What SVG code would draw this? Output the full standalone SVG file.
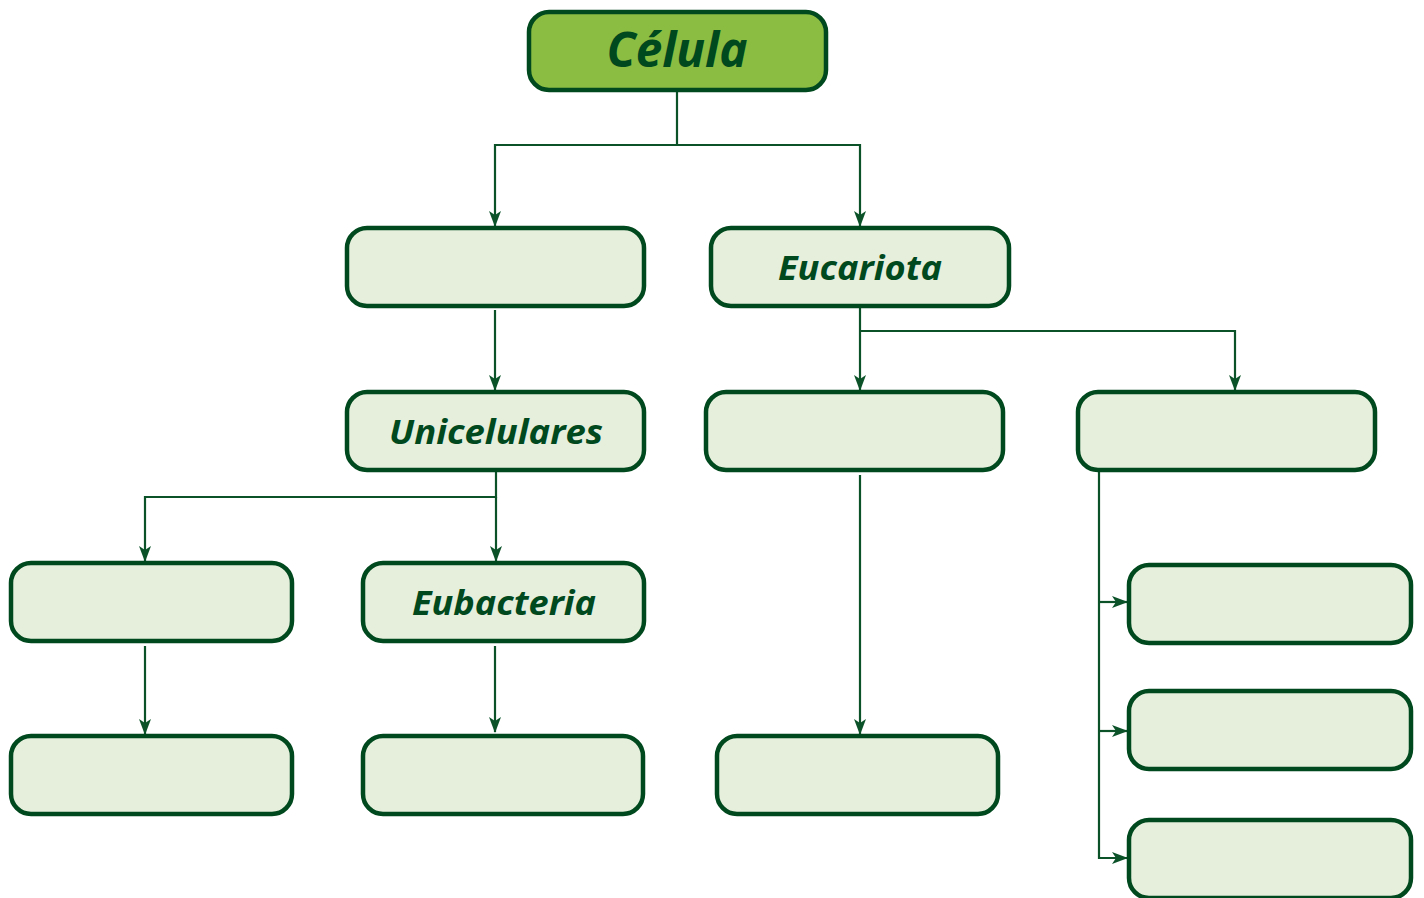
<svg xmlns="http://www.w3.org/2000/svg" width="1424" height="898" viewBox="0 0 1424 898">
<defs>
<style>
.box{fill:#e5efdc;stroke:#00481d;stroke-width:4.5}
.root{fill:#8bbd42;stroke:#00481d;stroke-width:4.5}
.lbl{font-family:"Open Sans","Liberation Sans",sans-serif;font-weight:bold;font-style:italic;fill:#00481d;text-anchor:middle}
.c{fill:none;stroke:#0b5229;stroke-width:2.2}
</style>
<marker id="ah" viewBox="0 0 16 14" refX="15" refY="7" markerWidth="16" markerHeight="14" markerUnits="userSpaceOnUse" orient="auto">
<path d="M0,1 L16,7 L0,13 L4,7 Z" fill="#0b5229"/>
</marker>
</defs>
<g id="connectors">
<path class="c" d="M677,91 V145 H495 V226" marker-end="url(#ah)"/>
<path class="c" d="M677,145 H860 V226" marker-end="url(#ah)"/>
<path class="c" d="M495,310 V390" marker-end="url(#ah)"/>
<path class="c" d="M860,307 V390" marker-end="url(#ah)"/>
<path class="c" d="M860,331 H1235 V390" marker-end="url(#ah)"/>
<path class="c" d="M496,471 V497 H145 V561" marker-end="url(#ah)"/>
<path class="c" d="M496,497 V561" marker-end="url(#ah)"/>
<path class="c" d="M145,646 V734" marker-end="url(#ah)"/>
<path class="c" d="M495,646 V732" marker-end="url(#ah)"/>
<path class="c" d="M860,475 V734" marker-end="url(#ah)"/>
<path class="c" d="M1099,471 V858 H1127" marker-end="url(#ah)"/>
<path class="c" d="M1099,602 H1127" marker-end="url(#ah)"/>
<path class="c" d="M1099,731 H1127" marker-end="url(#ah)"/>
</g>
<g id="celula"><rect class="root" x="529" y="12" width="297" height="78" rx="20"/><text class="lbl" x="677" y="67" font-size="48" textLength="141" lengthAdjust="spacingAndGlyphs">Célula</text></g>
<g id="procariota"><rect class="box" x="347" y="228" width="297" height="78" rx="20"/></g>
<g id="eucariota"><rect class="box" x="711" y="228" width="298" height="78" rx="20"/><text class="lbl" x="860" y="280" font-size="34" textLength="164" lengthAdjust="spacingAndGlyphs">Eucariota</text></g>
<g id="unicelulares"><rect class="box" x="347" y="392" width="297" height="78" rx="20"/><text class="lbl" x="496" y="444" font-size="34" textLength="214" lengthAdjust="spacingAndGlyphs">Unicelulares</text></g>
<g id="euc-a"><rect class="box" x="706" y="392" width="297" height="78" rx="20"/></g>
<g id="euc-b"><rect class="box" x="1078" y="392" width="297" height="78" rx="20"/></g>
<g id="archaea"><rect class="box" x="11" y="563" width="281" height="78" rx="20"/></g>
<g id="eubacteria"><rect class="box" x="363" y="563" width="281" height="78" rx="20"/><text class="lbl" x="504" y="615" font-size="34" textLength="184" lengthAdjust="spacingAndGlyphs">Eubacteria</text></g>
<g id="archaea-ex"><rect class="box" x="11" y="736" width="281" height="78" rx="20"/></g>
<g id="eubacteria-ex"><rect class="box" x="363" y="736" width="280" height="78" rx="20"/></g>
<g id="euc-a-ex"><rect class="box" x="717" y="736" width="281" height="78" rx="20"/></g>
<g id="euc-b-1"><rect class="box" x="1129" y="565" width="282" height="78" rx="20"/></g>
<g id="euc-b-2"><rect class="box" x="1129" y="691" width="282" height="78" rx="20"/></g>
<g id="euc-b-3"><rect class="box" x="1129" y="820" width="282" height="78" rx="20"/></g>
</svg>
